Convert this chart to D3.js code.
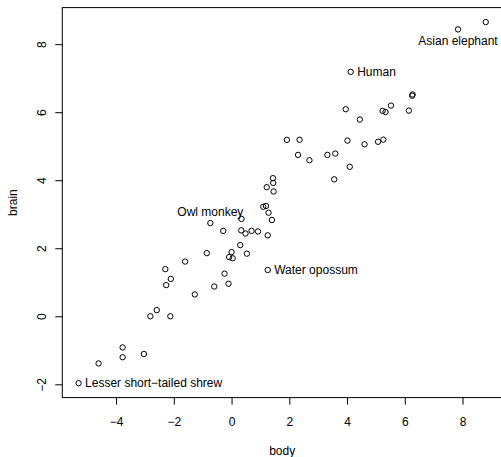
<!DOCTYPE html>
<html>
<head>
<meta charset="utf-8">
<script src="https://cdn.jsdelivr.net/npm/d3@7"></script>
<style>
  body { margin: 0; background: #fff; }
  svg text { font-family: "Liberation Sans", Arial, sans-serif; font-size: 12px; fill: #000; }
</style>
</head>
<body>
<div class="chart"></div>
<script>
// log(body weight, kg) and log(brain weight, g), mammals
var species = ['Arctic fox','Owl monkey','Mountain beaver','Cow','Grey wolf','Goat','Roe deer','Guinea pig','Verbet','Chinchilla',
  'Ground squirrel','Arctic ground squirrel','African giant pouched rat','Lesser short-tailed shrew','Star-nosed mole',
  'Nine-banded armadillo','Tree hyrax','N.A. opossum','Asian elephant','Big brown bat','Donkey','Horse','European hedgehog',
  'Patas monkey','Cat','Galago','Genet','Giraffe','Gorilla','Grey seal','Rock hyrax-a','Human','African elephant',
  'Water opossum','Rhesus monkey','Kangaroo','Yellow-bellied marmot','Golden hamster','Mouse','Little brown bat','Slow loris',
  'Okapi','Rabbit','Sheep','Jaguar','Chimpanzee','Baboon','Desert hedgehog','Giant armadillo','Rock hyrax-b','Raccoon','Rat',
  'E. American mole','Mole rat','Musk shrew','Pig','Echidna','Brazilian tapir','Tenrec','Phalanger','Tree shrew','Red fox'];

var body = [1.219,-0.734,0.300,6.142,3.593,3.320,2.697,0.039,1.433,-0.856,
  -2.293,-0.083,0.000,-5.298,-2.813,1.253,0.693,0.531,7.843,-3.772,5.232,6.256,-0.242,
  2.303,1.194,-1.609,0.344,6.271,5.333,4.443,-0.288,4.127,8.803,
  1.253,1.917,3.555,1.399,-2.120,-3.772,-4.605,0.336,
  5.521,0.916,4.016,4.605,3.954,2.356,-0.598,4.094,1.281,1.456,-1.273,
  -2.590,-2.104,-3.037,5.258,1.099,5.075,-0.105,0.482,-2.263,1.443];

var brain = [3.795,2.741,2.092,6.047,4.783,4.745,4.587,1.705,4.060,1.856,
  1.386,1.740,1.887,-1.966,0.000,2.380,2.510,1.841,8.434,-1.204,6.038,6.485,1.253,
  4.745,3.243,1.609,2.862,6.522,6.006,5.784,2.510,7.185,8.650,
  1.361,5.187,4.025,2.833,0.000,-0.916,-1.386,2.526,
  6.194,2.493,5.165,5.056,6.087,5.190,0.875,4.394,3.045,3.669,0.642,
  0.182,1.099,-1.109,5.193,3.219,5.130,0.956,2.434,0.916,3.920];

var labelled = ['Owl monkey','Lesser short-tailed shrew','Asian elephant','Human','Water opossum'];
var labelPos = ['above','right','below','right','right'];

var xTicks = [-4,-2,0,2,4,6,8];
var yTicks = [-2,0,2,4,6,8];

var chart = {
  element: '.chart',
  width: 501,
  height: 457,
  plot: { left: 62.3, right: 502, top: 7.6, bottom: 397.6 },

  // R-style 4% padding on each side
  padded: function(values){
    var ext = d3.extent(values), d = (ext[1] - ext[0]) * 0.04;
    return [ext[0] - d, ext[1] + d];
  },

  minus: function(v){
    return String(v).replace('-', '\u2212');
  },

  draw: function(){
    var p = this.plot, self = this;
    var svg = d3.select(this.element).append('svg')
      .attr('width', this.width)
      .attr('height', this.height);

    var x = d3.scaleLinear().domain(this.padded(body)).range([p.left, p.right]);
    var y = d3.scaleLinear().domain(this.padded(brain)).range([p.bottom, p.top]);

    var xAxis = d3.axisBottom(x).tickValues(xTicks).tickSize(7).tickPadding(9)
      .tickFormat(function(d){ return self.minus(d); });
    var gx = svg.append('g')
      .attr('transform', 'translate(0,' + p.bottom + ')')
      .call(xAxis);
    gx.select('.domain').remove();
    gx.selectAll('line').attr('stroke', '#000');
    gx.selectAll('text').attr('font-size', null).attr('font-family', null)
      .attr('dy', null).attr('y', 28).attr('dominant-baseline', 'auto');

    var yAxis = d3.axisLeft(y).tickValues(yTicks).tickSize(7)
      .tickFormat(function(d){ return self.minus(d); });
    var gy = svg.append('g')
      .attr('transform', 'translate(' + p.left + ',0)')
      .call(yAxis);
    gy.select('.domain').remove();
    gy.selectAll('line').attr('stroke', '#000');
    gy.selectAll('text')
      .attr('x', null).attr('dy', null)
      .attr('font-size', null).attr('font-family', null)
      .attr('text-anchor', 'middle')
      .attr('dominant-baseline', 'central')
      .attr('transform', 'translate(-20.5,0) rotate(-90)');

    svg.append('rect')
      .attr('x', p.left).attr('y', p.top)
      .attr('width', p.right - p.left).attr('height', p.bottom - p.top)
      .attr('fill', 'none').attr('stroke', '#000').attr('stroke-width', 1);

    var data = species.map(function(s, i){ return { name: s, body: body[i], brain: brain[i] }; });

    svg.append('g').selectAll('circle')
        .data(data)
      .enter().append('circle')
        .attr('cx', function(d){ return x(d.body); })
        .attr('cy', function(d){ return y(d.brain); })
        .attr('r', 2.7)
        .attr('fill', 'none')
        .attr('stroke', '#000')
        .attr('stroke-width', 1);

    var lab = data.filter(function(d){ return labelled.indexOf(d.name) >= 0; });
    svg.append('g').selectAll('text')
        .data(lab)
      .enter().append('text')
        .text(function(d){ return d.name.replace('-', '\u2212'); })
        .each(function(d){
          var pos = labelPos[labelled.indexOf(d.name)], t = d3.select(this);
          var cx = x(d.body), cy = y(d.brain);
          if(pos === 'right'){
            t.attr('x', cx + 6.5).attr('y', cy).attr('text-anchor', 'start').attr('dominant-baseline', 'central');
          } else if(pos === 'above'){
            t.attr('x', cx).attr('y', cy - 7).attr('text-anchor', 'middle');
          } else {
            t.attr('x', cx).attr('y', cy + 15.5).attr('text-anchor', 'middle');
          }
        });

    svg.append('text')
      .attr('x', (p.left + p.right) / 2).attr('y', 451)
      .attr('text-anchor', 'middle').attr('dominant-baseline', 'central')
      .text('body');

    svg.append('text')
      .attr('transform', 'translate(12.5,' + (p.top + p.bottom) / 2 + ') rotate(-90)')
      .attr('text-anchor', 'middle').attr('dominant-baseline', 'central')
      .text('brain');

    return svg;
  }
};

chart.draw();
</script>
</body>
</html>
